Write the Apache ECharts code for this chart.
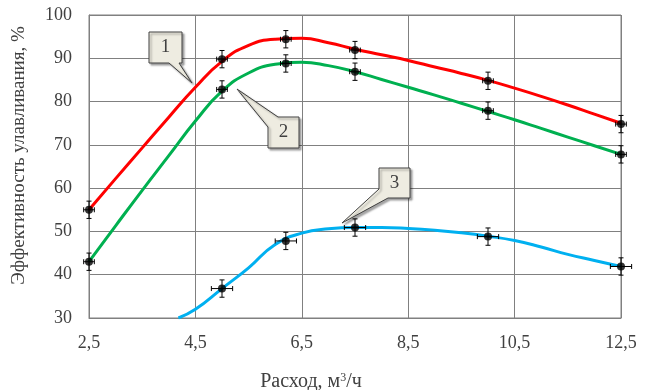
<!DOCTYPE html>
<html>
<head>
<meta charset="utf-8">
<script src="https://cdn.jsdelivr.net/npm/echarts@6/dist/echarts.min.js"></script>
<style>
  html, body { margin: 0; padding: 0; background: #fff; }
  #chart { width: 649px; height: 390px; }
</style>
</head>
<body>
<div id="chart"></div>
<script>
// x tick labels
const xTicks = [2.5, 4.5, 6.5, 8.5, 10.5, 12.5];

// measured points (curve 1, 2, 3)
const ptsX1 = [2.5, 5.0, 6.2, 7.5, 10.0, 12.5];
const ptsY1 = [55, 89.8, 94.4, 91.9, 84.8, 74.8];
const ptsX2 = [2.5, 5.0, 6.2, 7.5, 10.0, 12.5];
const ptsY2 = [43, 82.8, 88.8, 86.9, 77.9, 67.8];
const ptsX3 = [5.0, 6.2, 7.5, 10.0, 12.5];
const ptsY3 = [36.8, 47.8, 50.9, 48.8, 41.9];

// error bar half widths
const errY = 2;
const errX12 = 0.1;
const errX3 = 0.2;

// fitted curves
const curveX1 = [2.5, 3.0, 3.5, 4.0, 4.5, 5.0, 5.5, 6.0, 6.5, 7.0, 7.5, 8.0, 8.5, 9.0, 9.5, 10.0, 10.5, 11.0, 11.5, 12.0, 12.5];
const curveY1 = [55, 62.2, 69.3, 76.4, 83.3, 89.3, 93.0, 94.4, 94.6, 93.6, 92.1, 90.8, 89.5, 88.0, 86.5, 84.9, 83.1, 81.2, 79.2, 77.1, 75];
const curveX2 = [2.5, 3.0, 3.5, 4.0, 4.5, 5.0, 5.5, 6.0, 6.5, 7.0, 7.5, 8.0, 8.5, 9.0, 9.5, 10.0, 10.5, 11.0, 11.5, 12.0, 12.5];
const curveY2 = [43, 51.3, 59.5, 67.5, 75.5, 82.4, 86.6, 88.6, 89.1, 88.3, 86.9, 85.1, 83.3, 81.5, 79.6, 77.7, 75.8, 73.8, 71.8, 69.8, 67.8];
const curveX3 = [4.18, 4.5, 5.0, 5.5, 6.0, 6.5, 7.0, 7.5, 8.0, 8.5, 9.0, 9.5, 10.0, 10.5, 11.0, 11.5, 12.0, 12.5];
const curveY3 = [30, 32.0, 36.8, 41.6, 47.0, 49.6, 50.6, 50.9, 50.9, 50.7, 50.3, 49.7, 48.9, 47.9, 46.4, 44.7, 43.3, 41.9];

const zip = (xs, ys) => xs.map((x, i) => [x, ys[i]]);
const withErr = (xs, ys, ex) => xs.map((x, i) => [x, ys[i], ex, errY]);

const gridColor = '#808080';
const textColor = '#404040';
const serif = 'Liberation Serif';

function renderErr(params, api) {
  const x = api.value(0), y = api.value(1), ex = api.value(2), ey = api.value(3);
  const top = api.coord([x, y + ey]);
  const bot = api.coord([x, y - ey]);
  const l = api.coord([x - ex, y]);
  const r = api.coord([x + ex, y]);
  const c = 2.5;
  const st = { stroke: '#000', lineWidth: 1 };
  const line = (x1, y1, x2, y2) => ({ type: 'line', shape: { x1, y1, x2, y2 }, style: st });
  return {
    type: 'group',
    children: [
      line(top[0], top[1], bot[0], bot[1]),
      line(top[0] - c, top[1], top[0] + c, top[1]),
      line(bot[0] - c, bot[1], bot[0] + c, bot[1]),
      line(l[0], l[1], r[0], r[1]),
      line(l[0], l[1] - c, l[0], l[1] + c),
      line(r[0], r[1] - c, r[0], r[1] + c)
    ]
  };
}

function lineSeries(data, color) {
  return {
    type: 'line', data, showSymbol: false, smooth: 0.5,
    lineStyle: { color, width: 3 }, z: 2, silent: true
  };
}

function callout(label, pts, tx, ty) {
  return [
    {
      type: 'polygon', z: 10,
      shape: { points: pts },
      style: {
        fill: '#eeece1', stroke: '#404040', lineWidth: 1,
        shadowBlur: 2, shadowOffsetX: 2, shadowOffsetY: 2, shadowColor: 'rgba(0,0,0,0.35)'
      }
    },
    {
      type: 'text', z: 11, x: tx, y: ty,
      style: { text: label, font: '19px "Liberation Serif"', fill: textColor, align: 'center', verticalAlign: 'middle' }
    }
  ];
}

const chart = echarts.init(document.getElementById('chart'), null, { renderer: 'canvas' });

chart.setOption({
  animation: false,
  backgroundColor: '#fff',
  grid: {
    left: 89, right: 28, top: 15, bottom: 72,
    containLabel: false, outerBoundsMode: 'none',
    show: true, borderColor: gridColor, borderWidth: 1, backgroundColor: 'transparent'
  },
  xAxis: {
    type: 'value', min: 2.5, max: 12.5,
    name: 'Расход, м{sup|3}/ч',
    nameLocation: 'middle', nameGap: 54,
    nameTextStyle: {
      fontFamily: serif, fontSize: 20, color: textColor,
      padding: [0, 88, 0, 0],
      rich: { sup: { fontFamily: serif, fontSize: 12, color: textColor, verticalAlign: 'top', padding: [0, 0, 8, 0] } }
    },
    axisLine: { show: true, lineStyle: { color: gridColor, width: 1 } },
    axisTick: { show: false, customValues: xTicks },
    axisLabel: {
      customValues: xTicks, margin: 16,
      fontFamily: serif, fontSize: 18, color: textColor,
      formatter: v => String(v).replace('.', ',')
    },
    splitLine: { show: true, lineStyle: { color: gridColor, width: 1 } }
  },
  yAxis: {
    type: 'value', min: 30, max: 100, interval: 10,
    name: 'Эффективность улавливания, %',
    nameLocation: 'middle', nameGap: 60, nameRotate: 90,
    nameTextStyle: { fontFamily: serif, fontSize: 19, color: textColor, padding: [0, 0, 0, 22] },
    axisLine: { show: true, lineStyle: { color: gridColor, width: 1 } },
    axisTick: { show: false },
    axisLabel: { margin: 17, fontFamily: serif, fontSize: 18, color: textColor },
    splitLine: { show: true, lineStyle: { color: gridColor, width: 1 } }
  },
  series: [
    lineSeries(zip(curveX1, curveY1), '#ff0000'),
    lineSeries(zip(curveX2, curveY2), '#00b050'),
    lineSeries(zip(curveX3, curveY3), '#00b0f0'),
    { type: 'custom', renderItem: renderErr, data: withErr(ptsX1, ptsY1, errX12), z: 4, silent: true },
    { type: 'custom', renderItem: renderErr, data: withErr(ptsX2, ptsY2, errX12), z: 4, silent: true },
    { type: 'custom', renderItem: renderErr, data: withErr(ptsX3, ptsY3, errX3), z: 4, silent: true },
    {
      type: 'scatter', symbol: 'circle', symbolSize: 8, z: 5, silent: true,
      itemStyle: { color: '#000' },
      data: zip(ptsX1, ptsY1).concat(zip(ptsX2, ptsY2), zip(ptsX3, ptsY3))
    }
  ],
  graphic: [].concat(
    callout('1', [[149, 32], [182, 32], [182, 63], [179, 63], [192, 83], [169, 63], [149, 63]], 165.5, 47.5),
    callout('2', [[237, 89], [278, 117], [299, 117], [299, 148], [268, 148], [268, 127]], 283.5, 132.5),
    callout('3', [[379, 168], [410, 168], [410, 198], [388, 198], [342, 223], [379, 189]], 394.5, 183)
  )
});
</script>
</body>
</html>
